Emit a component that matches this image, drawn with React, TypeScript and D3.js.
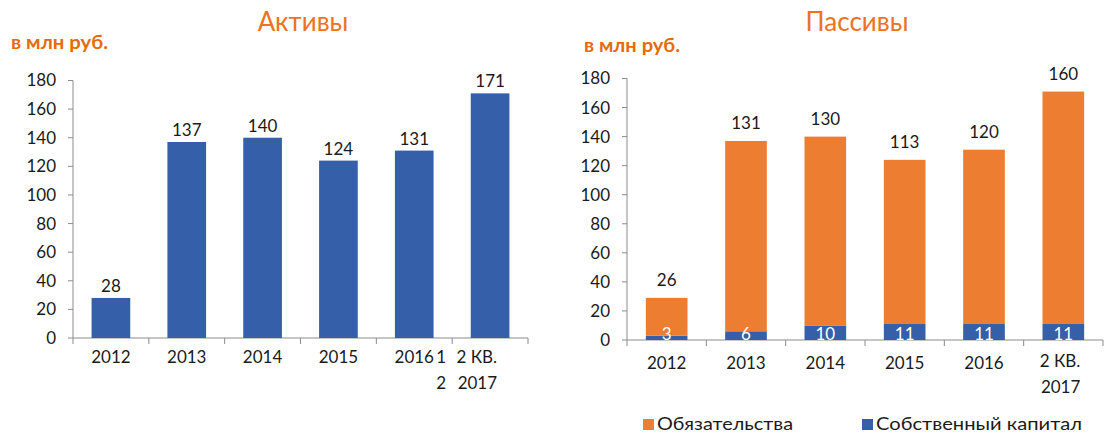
import React from "react";
import * as d3 from "d3";

const categories = ["2012", "2013", "2014", "2015", "2016", "2 КВ. 2017"];
const assets = [28, 137, 140, 124, 131, 171];
const liabilities = [26, 131, 130, 113, 120, 160];
const equity = [3, 6, 10, 11, 11, 11];
const yTicks = [0, 20, 40, 60, 80, 100, 120, 140, 160, 180];
const leftTitle = "Активы";
const rightTitle = "Пассивы";
const unitLabel = "в млн руб.";
const legendNames = ["Обязательства", "Собственный капитал"];

const BLUE = "#355FA8";
const ORANGE = "#ED7D31";
const TITLE_ORANGE = "#EB7322";
const AXIS = "#8C8C8C";
const FONT = "Lato, 'Open Sans', sans-serif";
const TEXT = "#1a1a1a";

function Axes({ x, y, fontSize }: { x: d3.ScaleBand<string>; y: d3.ScaleLinear<number, number>; fontSize: number }) {
  const [x0, x1] = x.range();
  const y0 = y(0);
  const bounds = categories.map((c) => x(c) as number).concat([x1]);
  return (
    <g>
      <line x1={x0} x2={x0} y1={y(180)} y2={y0} stroke={AXIS} strokeWidth={1} />
      <line x1={x0} x2={x1} y1={y0} y2={y0} stroke={AXIS} strokeWidth={1.2} />
      {yTicks.map((t) => (
        <g key={t}>
          <line x1={x0 - 5} x2={x0} y1={y(t)} y2={y(t)} stroke={AXIS} />
          <text x={x0 - 17} y={y(t)} dy="0.35em" textAnchor="end" fontSize={fontSize} fill={TEXT}>
            {t}
          </text>
        </g>
      ))}
      {bounds.map((b, i) => (
        <line key={i} x1={b} x2={b} y1={y0} y2={y0 + 6} stroke={AXIS} />
      ))}
    </g>
  );
}

export default function App() {
  const W = 1111;
  const H = 434;

  // Left chart
  const xL = d3.scaleBand<string>().domain(categories).range([73, 528]).padding(0);
  const yL = d3.scaleLinear().domain([0, 180]).range([338, 80.5]);
  const bwL = xL.bandwidth() * 0.51;
  const offL = (xL.bandwidth() - bwL) / 2;

  // Right chart
  const xR = d3.scaleBand<string>().domain(categories).range([627, 1103]).padding(0);
  const yR = d3.scaleLinear().domain([0, 180]).range([340, 78.5]);
  const bwR = xR.bandwidth() * 0.525;
  const offR = (xR.bandwidth() - bwR) / 2;

  const stacked = d3
    .stack<number>()
    .keys(["equity", "liabilities"])
    .value((i, key) => (key === "equity" ? equity[i] : liabilities[i]))(d3.range(categories.length));

  const fs = 17;

  return (
    <svg width={W} height={H} style={{ position: "absolute", left: 0, top: 0, fontFamily: FONT }}>
      <rect width={W} height={H} fill="#fff" />
      {/* Titles */}
      <text x={303} y={22} dy="0.35em" textAnchor="middle" fontSize={26} fill={TITLE_ORANGE}>
        {leftTitle}
      </text>
      <text x={857} y={22} dy="0.35em" textAnchor="middle" fontSize={26} fill={TITLE_ORANGE}>
        {rightTitle}
      </text>
      <text x={11} y={43} dy="0.35em" fontSize={18} fontWeight="bold" fill="#E46C0A" textLength={97} lengthAdjust="spacingAndGlyphs">
        {unitLabel}
      </text>
      <text x={584} y={46} dy="0.35em" fontSize={18} fontWeight="bold" fill="#E46C0A" textLength={96} lengthAdjust="spacingAndGlyphs">
        {unitLabel}
      </text>

      {/* Left chart */}
      <Axes x={xL} y={yL} fontSize={fs} />
      {categories.map((c, i) => (
        <g key={c}>
          <rect x={(xL(c) as number) + offL} y={yL(assets[i])} width={bwL} height={yL(0) - yL(assets[i])} fill={BLUE} />
          <text x={(xL(c) as number) + xL.bandwidth() / 2} y={yL(assets[i]) - 12} dy="0.35em" textAnchor="middle" fontSize={fs} fill={TEXT}>
            {assets[i]}
          </text>
        </g>
      ))}
      {categories.map((c, i) => {
        const cx = (xL(c) as number) + xL.bandwidth() / 2;
        if (i < categories.length - 1) {
          return (
            <text key={c} x={cx} y={yL(0) + 19} dy="0.35em" textAnchor="middle" fontSize={fs} fill={TEXT}>
              {c}
            </text>
          );
        }
        const parts = c.split(" ");
        return (
          <g key={c}>
            <text x={cx - 49} y={yL(0) + 19} dy="0.35em" textAnchor="middle" fontSize={fs} fill={TEXT}>1</text>
            <text x={cx - 49} y={yL(0) + 45} dy="0.35em" textAnchor="middle" fontSize={fs} fill={TEXT}>2</text>
            <text x={cx + 7} y={yL(0) + 19} dy="0.35em" textAnchor="end" fontSize={fs} fill={TEXT}>
              {parts[0] + " " + parts[1]}
            </text>
            <text x={cx + 7} y={yL(0) + 45} dy="0.35em" textAnchor="end" fontSize={fs} fill={TEXT}>
              {parts[2]}
            </text>
          </g>
        );
      })}

      {/* Right chart */}
      <Axes x={xR} y={yR} fontSize={fs} />
      {stacked.map((layer) => (
        <g key={layer.key} fill={layer.key === "equity" ? BLUE : ORANGE}>
          {layer.map((d, i) => (
            <rect
              key={i}
              x={(xR(categories[i]) as number) + offR}
              y={yR(d[1])}
              width={bwR}
              height={yR(d[0]) - yR(d[1])}
            />
          ))}
        </g>
      ))}
      {categories.map((c, i) => {
        const cx = (xR(c) as number) + xR.bandwidth() / 2;
        const top = stacked[1][i][1];
        return (
          <g key={c}>
            <text x={cx} y={yR(top) - 18} dy="0.35em" textAnchor="middle" fontSize={fs} fill={TEXT}>
              {liabilities[i]}
            </text>
            <text x={cx} y={yR(0) - 6} dy="0.35em" textAnchor="middle" fontSize={fs} fill="#fff">
              {equity[i]}
            </text>
          </g>
        );
      })}
      {categories.map((c, i) => {
        const cx = (xR(c) as number) + xR.bandwidth() / 2;
        if (i < categories.length - 1) {
          return (
            <text key={c} x={cx} y={yR(0) + 23} dy="0.35em" textAnchor="middle" fontSize={fs} fill={TEXT}>
              {c}
            </text>
          );
        }
        const parts = c.split(" ");
        return (
          <g key={c}>
            <text x={cx + 17} y={yR(0) + 21} dy="0.35em" textAnchor="end" fontSize={fs} fill={TEXT}>
              {parts[0] + " " + parts[1]}
            </text>
            <text x={cx + 17} y={yR(0) + 47} dy="0.35em" textAnchor="end" fontSize={fs} fill={TEXT}>
              {parts[2]}
            </text>
          </g>
        );
      })}

      {/* Legend */}
      <rect x={643} y={419} width={11} height={11} fill={ORANGE} />
      <text x={657} y={424} dy="0.35em" fontSize={18} fill={TEXT} textLength={136} lengthAdjust="spacingAndGlyphs">
        {legendNames[0]}
      </text>
      <rect x={862} y={419} width={11} height={11} fill={BLUE} />
      <text x={876} y={424} dy="0.35em" fontSize={18} fill={TEXT} textLength={206} lengthAdjust="spacingAndGlyphs">
        {legendNames[1]}
      </text>
    </svg>
  );
}
